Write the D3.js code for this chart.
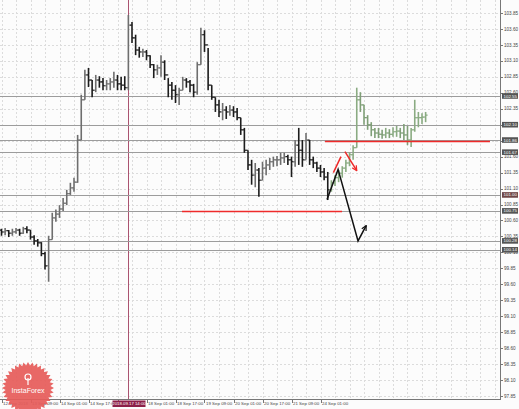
<!DOCTYPE html>
<html><head><meta charset="utf-8">
<script src="https://cdn.jsdelivr.net/npm/d3@7"></script>
<style>html,body{margin:0;padding:0;background:#fff;}svg{display:block;}</style>
</head><body>
<script>
// ---- data (prices; hourly bar index, bars every 2 hours) ----
const firstOpen = 100.45;
const histHigh = [100.47,100.48,100.45,100.47,100.48,100.47,100.50,100.51,100.45,100.37,100.31,100.26,100.11,100.36,100.72,100.77,100.84,100.95,101.08,101.19,101.27,101.94,102.57,102.96,102.99,102.80,102.88,102.86,102.83,102.80,102.83,102.93,102.88,102.85,102.86,103.82,103.71,103.51,103.32,103.29,103.27,103.19,103.05,103.04,103.19,103.11,102.83,102.77,102.72,102.68,102.85,102.83,102.80,102.74,103.08,103.62,103.58,103.30,102.72,102.53,102.49,102.44,102.39,102.41,102.39,102.36,102.21,102.05,101.70,101.55,101.50,101.42,101.52,101.55,101.58,101.60,101.61,101.66,101.66,101.63,101.60,101.86,102.05,101.86,101.97,101.86,101.60,101.52,101.47,101.42,101.36];
const histLow = [100.36,100.37,100.34,100.36,100.39,100.36,100.39,100.40,100.30,100.22,100.19,100.04,99.83,99.64,100.30,100.58,100.64,100.75,100.84,101.00,101.05,101.19,101.86,102.49,102.69,102.53,102.61,102.68,102.64,102.64,102.64,102.68,102.64,102.64,102.64,102.64,103.38,103.19,103.15,103.16,103.11,102.99,102.83,102.88,102.85,102.80,102.53,102.49,102.44,102.41,102.64,102.68,102.61,102.53,102.57,103.04,103.24,102.64,102.49,102.30,102.22,102.17,102.19,102.24,102.22,102.17,101.94,101.66,101.39,101.16,101.12,100.97,101.23,101.31,101.39,101.44,101.45,101.47,101.50,101.47,101.28,101.44,101.47,101.44,101.55,101.47,101.42,101.36,101.28,101.23,100.92];
const histClose = [100.42,100.44,100.40,100.42,100.45,100.40,100.47,100.45,100.34,100.28,100.25,100.08,99.89,100.30,100.64,100.70,100.78,100.87,101.02,101.11,101.20,101.86,102.49,102.88,102.80,102.64,102.80,102.77,102.71,102.74,102.77,102.80,102.74,102.72,102.68,103.66,103.46,103.27,103.24,103.24,103.18,103.04,102.96,102.99,103.08,102.88,102.72,102.64,102.57,102.64,102.80,102.77,102.72,102.61,103.04,103.51,103.35,102.72,102.53,102.41,102.30,102.33,102.30,102.33,102.30,102.21,102.02,101.70,101.47,101.31,101.39,101.23,101.42,101.47,101.52,101.55,101.55,101.58,101.60,101.55,101.52,101.78,101.70,101.55,101.86,101.55,101.50,101.42,101.36,101.28,101.08];
const fcHigh = [101.23,101.31,101.39,101.45,101.55,101.67,101.78,102.68,102.61,102.41,102.25,102.14,102.05,102.05,102.02,102.05,102.03,102.06,102.08,102.05,102.11,102.08,102.05,102.49,102.30,102.28,102.30];
const fcLow = [101.05,101.14,101.20,101.27,101.36,101.45,101.55,101.74,102.30,102.10,102.02,101.92,101.89,101.89,101.88,101.89,101.89,101.91,101.91,101.89,101.86,101.78,101.75,101.99,102.06,102.11,102.14];
const fcClose = [101.19,101.27,101.34,101.42,101.50,101.63,101.74,102.49,102.41,102.21,102.10,102.02,101.97,101.95,101.94,101.97,101.95,101.99,102.00,101.97,101.94,101.86,102.02,102.21,102.21,102.22,102.25];
const barStep = 2;               // hours per drawn bar
const fcStart = 182;             // hourly index of first forecast bar

const yTicks = [103.85,103.60,103.35,103.10,102.85,102.60,102.35,102.10,101.85,101.60,101.35,101.10,100.85,100.60,100.35,100.10,99.85,99.60,99.35,99.10,98.85,98.60,98.35,98.10,97.85];
const xTickIdx = [0,16,32,48,64,80,96,112,128,144,160,176];
const xTickLabels = ["12 Sep 2018","13 Sep 09:00","14 Sep 01:00","14 Sep 17:00","","18 Sep 01:00","18 Sep 17:00","19 Sep 09:00","20 Sep 01:00","20 Sep 17:00","21 Sep 09:00","24 Sep 01:00"];
const levels = [102.55,102.10,101.86,101.67,101.00,100.75,100.28,100.14];
const redLines = [{from:178.5,to:269.5,price:101.85},{from:99.6,to:187.9,price:100.75}];
const blackArrowIdx = [179.6,185.7,196.7,201.2];
const blackArrowPx  = [100.93,101.40,100.28,100.52];
const redLegAIdx = [183.1,187.3];
const redLegAPx  = [101.35,101.60];
const redLegBIdx = [189.5,196.0];
const redLegBPx  = [101.68,101.38];
const cursorIdx = 69.8;
const cursorLabel = "2018.09.17 14:00";
const logoText = "InstaForex";

// ---- layout ----
const W = 519, H = 409, plotR = 500, plotB = 399;
const svg = d3.select("body").append("svg").attr("width", W).attr("height", H);
svg.append("rect").attr("width", W).attr("height", H).attr("fill", "#fcfcfc");

const x = d3.scaleLinear().domain([0, 176]).range([1.5, 320.5]);
const y = d3.scaleLinear().domain([97.85, 103.85]).range([396, 13]);
const font = "Liberation Sans, Arial, sans-serif";

const plot = svg.append("g");
svg.append("clipPath").attr("id","pc").append("rect").attr("width", plotR).attr("height", plotB);
plot.attr("clip-path","url(#pc)");

// grid
const gridX = d3.range(0, 300, 8);
plot.selectAll(".gx").data(gridX).join("line")
  .attr("x1", d => Math.round(x(d)) + 0.5).attr("x2", d => Math.round(x(d)) + 0.5)
  .attr("y1", 0).attr("y2", plotB)
  .attr("stroke", "#dcdcdc").attr("stroke-dasharray", "2,2").attr("stroke-width", 1);
plot.selectAll(".gy").data(yTicks).join("line")
  .attr("x1", 0).attr("x2", plotR)
  .attr("y1", d => Math.round(y(d)) + 0.5).attr("y2", d => Math.round(y(d)) + 0.5)
  .attr("stroke", "#dcdcdc").attr("stroke-dasharray", "2,2").attr("stroke-width", 1);

// cursor line
plot.append("line").attr("x1", Math.round(x(cursorIdx)) + 0.5).attr("x2", Math.round(x(cursorIdx)) + 0.5)
  .attr("y1", 0).attr("y2", plotB).attr("stroke", "#a04060").attr("stroke-width", 0.9);

// level lines
plot.selectAll(".lv").data(levels).join("line")
  .attr("x1", 0).attr("x2", plotR)
  .attr("y1", d => Math.round(y(d)) + 0.5).attr("y2", d => Math.round(y(d)) + 0.5)
  .attr("stroke", "#9c9c9c").attr("stroke-width", 1.2);

// bars
function bars(highs, lows, closes, startIdx, open0, upCol, dnCol) {
  const data = highs.map((h, k) => ({
    i: startIdx + k * barStep, h, l: lows[k], c: closes[k],
    o: k === 0 ? open0 : closes[k - 1]
  }));
  const g = plot.append("g");
  const b = g.selectAll("g").data(data).join("g");
  const col = d => d.c >= d.o ? upCol : dnCol;
  b.append("line").attr("x1", d => x(d.i)).attr("x2", d => x(d.i))
    .attr("y1", d => y(d.h)).attr("y2", d => y(d.l)).attr("stroke", col).attr("stroke-width", 1.6);
  b.append("line").attr("x1", d => x(d.i) - 2).attr("x2", d => x(d.i))
    .attr("y1", d => y(d.o)).attr("y2", d => y(d.o)).attr("stroke", col).attr("stroke-width", 1.2);
  b.append("line").attr("x1", d => x(d.i)).attr("x2", d => x(d.i) + 2)
    .attr("y1", d => y(d.c)).attr("y2", d => y(d.c)).attr("stroke", col).attr("stroke-width", 1.2);
}
bars(histHigh, histLow, histClose, 0, firstOpen, "#6e6e6e", "#1c1c1c");
bars(fcHigh, fcLow, fcClose, fcStart, histClose[histClose.length - 1], "#8aab82", "#7f9f77");

// red horizontal lines
plot.selectAll(".rl").data(redLines).join("line")
  .attr("x1", d => x(d.from)).attr("x2", d => x(d.to))
  .attr("y1", d => Math.round(y(d.price)) + 0.5).attr("y2", d => Math.round(y(d.price)) + 0.5)
  .attr("stroke", "#ee2a2a").attr("stroke-width", 1.5);

// arrows
const defs = svg.append("defs");
function marker(id, color) {
  defs.append("marker").attr("id", id).attr("viewBox", "0 0 10 10").attr("refX", 9).attr("refY", 5)
    .attr("markerWidth", 6).attr("markerHeight", 6).attr("orient", "auto").attr("markerUnits","userSpaceOnUse")
    .append("path").attr("d", "M1,1 L9,5 L1,9").attr("fill", "none").attr("stroke", color).attr("stroke-width", 2);
}
marker("mb", "#111"); marker("mr", "#ee2a2a");
const line = d3.line().x(d => x(d[0])).y(d => y(d[1]));
plot.append("path").attr("d", line(blackArrowIdx.map((v, k) => [v, blackArrowPx[k]])))
  .attr("fill", "none").attr("stroke", "#111").attr("stroke-width", 1.5).attr("marker-end", "url(#mb)");
plot.append("path").attr("d", line(redLegAIdx.map((v, k) => [v, redLegAPx[k]])))
  .attr("fill", "none").attr("stroke", "#ee2a2a").attr("stroke-width", 1.5);
plot.append("path").attr("d", line(redLegBIdx.map((v, k) => [v, redLegBPx[k]])))
  .attr("fill", "none").attr("stroke", "#ee2a2a").attr("stroke-width", 1.5).attr("marker-end", "url(#mr)");

// axes frame
svg.append("line").attr("x1", plotR + 0.5).attr("x2", plotR + 0.5).attr("y1", 0).attr("y2", plotB + 1)
  .attr("stroke", "#777").attr("stroke-width", 1);
svg.append("line").attr("x1", 0).attr("x2", plotR + 1).attr("y1", plotB + 0.5).attr("y2", plotB + 0.5)
  .attr("stroke", "#777").attr("stroke-width", 1);

// y ticks & labels
const yt = svg.append("g");
yt.selectAll("line").data(yTicks).join("line")
  .attr("x1", plotR).attr("x2", plotR + 3)
  .attr("y1", d => Math.round(y(d)) + 0.5).attr("y2", d => Math.round(y(d)) + 0.5).attr("stroke", "#777");
yt.selectAll("text").data(yTicks).join("text")
  .attr("x", plotR + 4).attr("y", d => y(d)).attr("dy", "0.35em")
  .attr("font-family", font).attr("font-size", 4.6).attr("fill", "#444")
  .text(d => d.toFixed(2));

// level boxes on axis
const lb = svg.append("g").selectAll("g").data(levels).join("g");
lb.append("rect").attr("x", plotR + 2).attr("y", d => y(d) - 2.8).attr("width", 16).attr("height", 5.6)
  .attr("fill", (d, k) => k === 4 ? "#6e4747" : "#555");
lb.append("text").attr("x", plotR + 3.5).attr("y", d => y(d)).attr("dy", "0.35em")
  .attr("font-family", font).attr("font-size", 4.4).attr("fill", "#fff").text(d => d.toFixed(2));

// x ticks & labels
const xt = svg.append("g");
xt.selectAll("line").data(xTickIdx).join("line")
  .attr("x1", d => Math.round(x(d)) + 0.5).attr("x2", d => Math.round(x(d)) + 0.5)
  .attr("y1", plotB).attr("y2", plotB + 4).attr("stroke", "#777");
xt.selectAll("text").data(xTickIdx).join("text")
  .attr("x", d => x(d) + 1.5).attr("y", plotB + 5.8)
  .attr("font-family", font).attr("font-size", 4.4).attr("fill", "#444")
  .text((d, k) => xTickLabels[k]);

// cursor time label
const cx = x(cursorIdx);
svg.append("rect").attr("x", cx - 15.5).attr("y", plotB + 1.5).attr("width", 33).attr("height", 6.5).attr("fill", "#8c1f48");
svg.append("text").attr("x", cx + 1).attr("y", plotB + 5.8).attr("text-anchor", "middle")
  .attr("font-family", font).attr("font-size", 4.3).attr("fill", "#fff").text(cursorLabel);

// logo seal
const lcx = 28, lcy = 388, nPts = 36, rO = 26, rI = 22.5;
const sealPts = d3.range(nPts * 2).map(k => {
  const a = Math.PI * k / nPts, r = k % 2 ? rI : rO;
  return [lcx + r * Math.sin(a), lcy - r * Math.cos(a)];
});
svg.append("path").attr("d", "M" + sealPts.join("L") + "Z").attr("fill", "#e65c5a").attr("opacity", 0.93);
svg.append("text").attr("x", lcx).attr("y", lcy + 5).attr("text-anchor", "middle")
  .attr("font-family", font).attr("font-size", 7).attr("fill", "#fff").text(logoText);
const ic = svg.append("g").attr("fill", "none").attr("stroke", "#fff").attr("stroke-width", 1.2);
ic.append("circle").attr("cx", lcx).attr("cy", lcy - 11).attr("r", 3);
ic.append("line").attr("x1", lcx).attr("x2", lcx).attr("y1", lcy - 10).attr("y2", lcy - 3);
</script>
</body></html>
